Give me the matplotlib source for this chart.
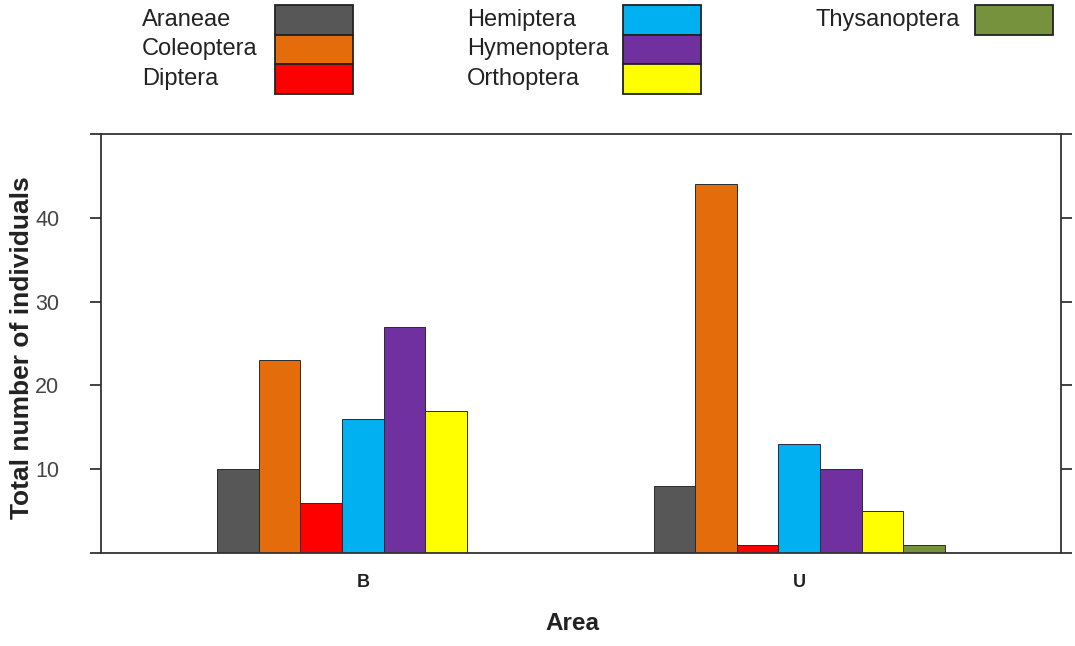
import numpy as np
import matplotlib
matplotlib.use("Agg")
import matplotlib.pyplot as plt
from matplotlib.patches import Rectangle

plt.rcParams['font.family'] = ['Liberation Sans', 'DejaVu Sans']

# === data ===
areas = ['B', 'U']
orders = ['Araneae', 'Coleoptera', 'Diptera', 'Hemiptera',
          'Hymenoptera', 'Orthoptera', 'Thysanoptera']
araneae = [10, 8]
coleoptera = [23, 44]
diptera = [6, 1]
hemiptera = [16, 13]
hymenoptera = [27, 10]
orthoptera = [17, 5]
thysanoptera = [0, 1]
counts = [araneae, coleoptera, diptera, hemiptera, hymenoptera, orthoptera, thysanoptera]

colors = ['#575757', '#E46C0A', '#FF0000', '#00B0F0',
          '#7030A0', '#FFFF00', '#76923C']

# === plot ===
W, H = 1075, 646
fig = plt.figure(figsize=(W / 100, H / 100), dpi=100)
ax = fig.add_axes([101 / W, 1 - 553 / H, 960 / W, 419 / H])

x = np.arange(1, len(areas) + 1)
w = (2 / 3) / len(orders)
for i, (vals, c) in enumerate(zip(counts, colors)):
    ax.bar(x + (i - 3) * w, vals, width=w, color=c,
           edgecolor='#2a2a2a', linewidth=0.7)

ax.set_xlim(0.4, 2.6)
ax.set_ylim(0, 50)
ax.set_yticks([0, 10, 20, 30, 40, 50])
ax.set_yticklabels(['', '10', '20', '30', '40', ''])
ax.set_xticks(x)
ax.set_xticklabels(areas, fontweight='bold', fontsize=13)

for s in ax.spines.values():
    s.set_color('#333333')
    s.set_linewidth(1.3)
ax.tick_params(axis='y', which='both', direction='out', length=8, width=1.3,
               color='#333333', labelsize=15.5, labelcolor='#444444', pad=22,
               right=True)
ax.tick_params(axis='x', length=0, pad=15, labelcolor='#222222')

ax.set_ylabel('Total number of individuals', fontsize=19,
              fontweight='bold', color='#222222')
ax.yaxis.set_label_coords(-0.07, 0.49)
fig.text(572 / W, 1 - 624 / H, 'Area', fontsize=17.5, fontweight='bold',
         ha='center', va='center', color='#222222')

# === legend (three columns, text then key) ===
cols_text_x = [142, 467, 815]
cols_key_x = [275, 623, 975]
key_w, key_h = 78, 29.5
top = 5
for i, (name, c) in enumerate(zip(orders, colors)):
    col, row = i // 3, i % 3
    y0 = top + row * key_h
    fig.text(cols_text_x[col] / W, 1 - (y0 + key_h / 2) / H, name,
             fontsize=17, ha='left', va='center', color='#222222')
    fig.add_artist(Rectangle((cols_key_x[col] / W, 1 - (y0 + key_h) / H),
                             key_w / W, key_h / H, transform=fig.transFigure,
                             facecolor=c, edgecolor='#222222', linewidth=1.3))

plt.savefig('out.png', dpi=100)
